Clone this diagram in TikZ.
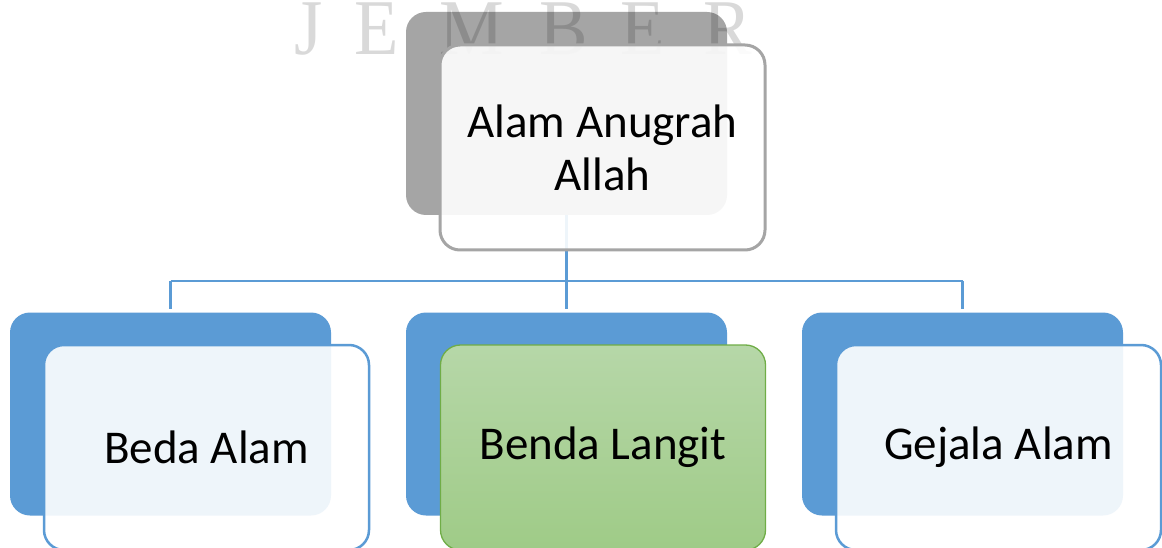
\documentclass[tikz,border=0pt]{standalone}
\usepackage{fontspec}
\setmainfont{Carlito}
\newfontfamily\wmfont{Liberation Serif}
\usetikzlibrary{positioning}
\definecolor{accblue}{HTML}{5B9BD5}
\definecolor{backgray}{HTML}{A5A5A5}
\definecolor{greenedge}{HTML}{70AD47}
\definecolor{greentop}{HTML}{B6D7A8}
\definecolor{greenbot}{HTML}{9FCB87}
\newcommand{\wmletter}[1]{\scalebox{0.92}[1]{\wmfont\fontsize{79}{79}\selectfont #1}}
\tikzset{
  x=1pt, y=-1pt,
  card/.style={rectangle, rounded corners=20pt, inner sep=0pt,
    minimum width=#1, minimum height=203pt},
  card/.default=321pt,
  backgraycard/.style={card, fill=backgray, draw=none},
  backbluecard/.style={card, fill=accblue, draw=none},
  frontcard/.style={rectangle, rounded corners=20pt, inner sep=0pt,
    minimum width=325pt, minimum height=205pt, align=center,
    font=\fontsize{47}{53}\selectfont},
  frontgray/.style={frontcard, fill=white, fill opacity=0.9, text opacity=1,
    draw=backgray, line width=3pt},
  frontblue/.style={frontcard, fill=white, fill opacity=0.9, text opacity=1,
    draw=accblue, line width=2.5pt},
  frontgreen/.style={frontcard, top color=greentop, bottom color=greenbot,
    draw=greenedge, line width=1.3pt},
  link/.style={draw=accblue, line width=2.8pt},
  wm/.style={anchor=base, inner sep=0pt, text=black, text opacity=0.15}
}
\begin{document}
\begin{tikzpicture}
  \clip (0,0) rectangle (1162,548);
  \fill[white] (0,0) rectangle (1162,548);

  % back cards
  \node[backgraycard] (rootback) at (566.5,113.5) {};
  \node[backbluecard] (leftback) at (170.5,414) {};
  \node[backbluecard] (midback) at (566.5,414) {};
  \node[backbluecard] (rightback) at (962.5,414) {};

  % connectors
  \coordinate (hub) at (566.5,281);
  \coordinate (hubL) at (170.5,281);
  \coordinate (hubR) at (962.5,281);
  \draw[link] (rootback.south) -- (hub);
  \draw[link] (hubL) -- (hubR);
  \draw[link, shorten >=3pt] (hubL) -- (leftback.north);
  \draw[link, shorten >=3pt] (hub) -- (midback.north);
  \draw[link, shorten >=3pt] (hubR) -- (rightback.north);

  % watermark lettering
  \node[wm] (wmJ) at (309,55) {\wmletter{J}};
  \node[wm] (wmE) at (377,55) {\wmletter{E}};
  \node[wm] (wmM) at (472,55) {\wmletter{M}};
  \node[wm] (wmB) at (564,55) {\wmletter{B}};
  \node[wm] (wmE2) at (643,55) {\wmletter{E}};
  \node[wm] (wmR) at (728,55) {\wmletter{R}};

  % front cards
  \node[frontgray] (root) at (602.5,147.5) {Alam Anugrah\\Allah};
  \node[frontblue] (left) at (206.5,447.5) {Beda Alam};
  \node[frontgreen] (mid) at (603,447.5) {Benda Langit};
  \node[frontblue] (right) at (998.5,447.5) {Gejala Alam};
\end{tikzpicture}
\end{document}
